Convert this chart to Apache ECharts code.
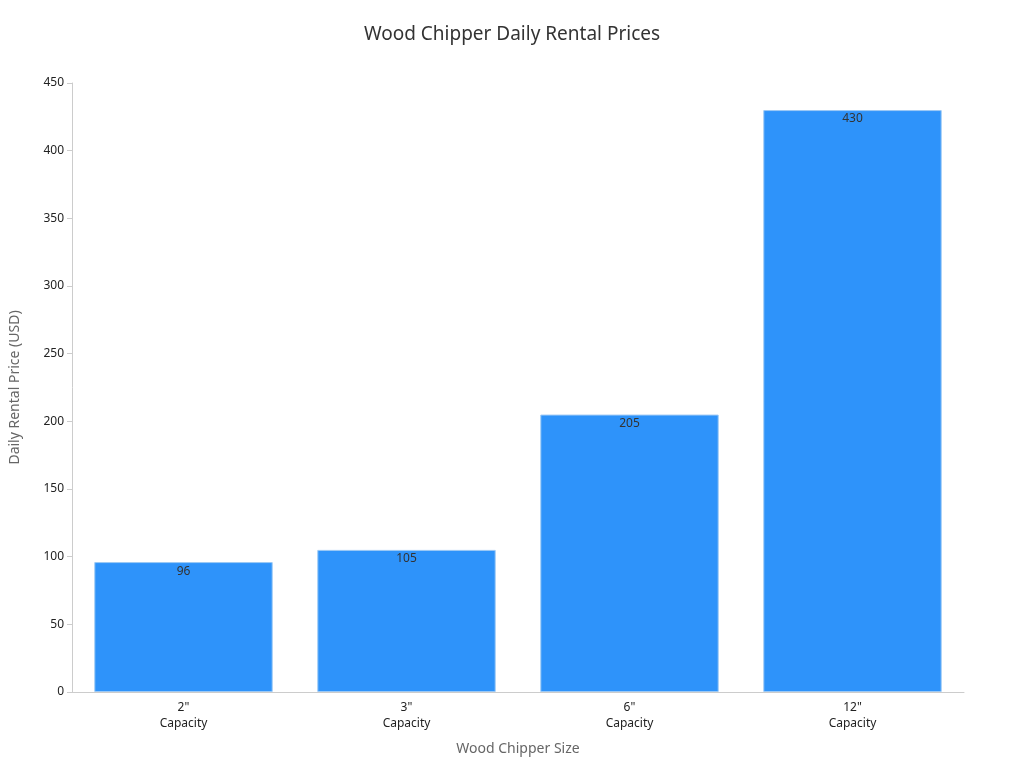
<!DOCTYPE html>
<html><head><meta charset="utf-8">
<script src="https://cdn.jsdelivr.net/npm/echarts@6/dist/echarts.min.js"></script>
<style>html,body{margin:0;padding:0;background:#fff}#c{width:1024px;height:768px}</style>
</head><body><div id="c"></div>
<script>
const categories = ['2"\nCapacity', '3"\nCapacity', '6"\nCapacity', '12"\nCapacity'];
const prices = [96, 105, 205, 430];
const yTicks = { min: 0, max: 450, interval: 50 };
const chart = echarts.init(document.getElementById('c'));
chart.setOption({
  textStyle: { fontFamily: 'Noto Sans' },
  title: { text: 'Wood Chipper Daily Rental Prices', left: 'center', top: 20,
    textStyle: { fontSize: 19, fontWeight: 'normal', color: '#333', fontFamily: 'Noto Sans' } },
  grid: { left: 68, right: 60, top: 83, bottom: 76 },
  xAxis: { type: 'category', data: categories, name: 'Wood Chipper Size', nameLocation: 'middle', nameGap: 50,
    nameTextStyle: { fontSize: 14, color: '#666' },
    axisLine: { lineStyle: { color: '#ccc' } }, axisTick: { alignWithLabel: true, lineStyle: { color: '#ccc' } },
    axisLabel: { color: '#222', fontSize: 12, lineHeight: 16 } },
  yAxis: { type: 'value', min: yTicks.min, max: yTicks.max, interval: yTicks.interval,
    name: 'Daily Rental Price (USD)', nameLocation: 'middle', nameGap: 50,
    nameTextStyle: { fontSize: 14, color: '#666' },
    axisLine: { show: true, lineStyle: { color: '#ccc' } }, axisTick: { show: true, lineStyle: { color: '#ccc' } },
    splitLine: { show: false }, axisLabel: { color: '#222', fontSize: 12 } },
  series: [{ type: 'bar', data: prices, barWidth: '80%',
    itemStyle: { color: '#2E93FA', borderColor: '#9cc9f5', borderWidth: 1 },
    label: { show: true, position: 'insideTop', color: '#333', fontSize: 12, offset: [0, -2] } }]
});
</script></body></html>
